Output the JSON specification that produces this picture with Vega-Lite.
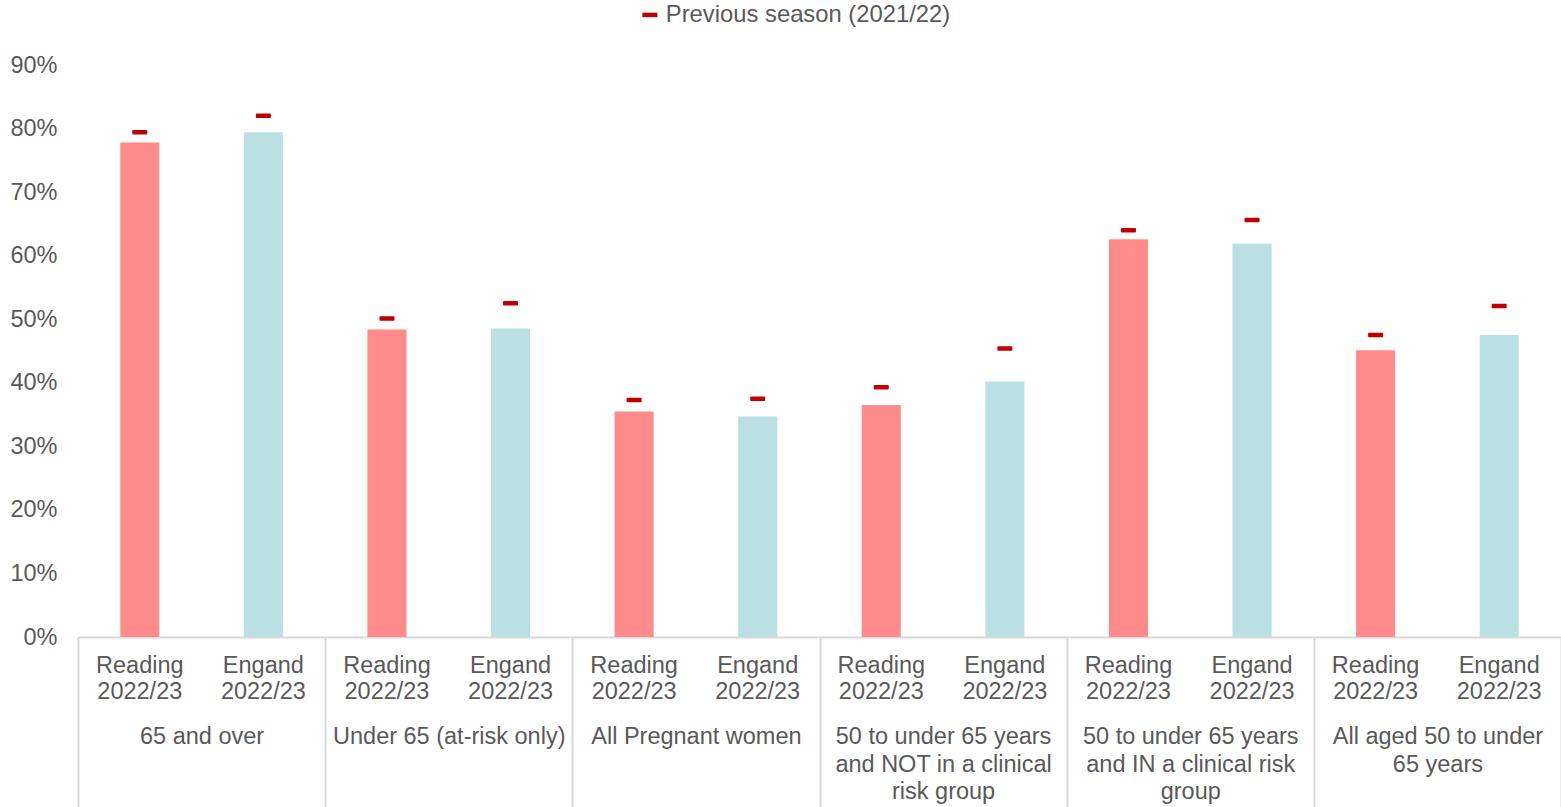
{
  "$schema": "https://vega.github.io/schema/vega-lite/v6.json",
  "width": 1483,
  "height": 572,
  "autosize": {"type": "none"},
  "padding": {"left": 78, "top": 65, "right": 0, "bottom": 170},
  "background": "white",
  "config": {
    "font": "Liberation Sans",
    "view": {"stroke": null},
    "axis": {"labelFont": "Liberation Sans", "labelFontSize": 23.5, "labelColor": "#595959", "grid": false, "title": null}
  },
  "data": {
    "values": [
      {"key": "1|Reading", "group": "65 and over", "series": "Reading", "value": 77.8, "prev": 79.4, "prevLabel": "Previous season (2021/22)"},
      {"key": "1|Engand", "group": "65 and over", "series": "Engand", "value": 79.4, "prev": 82.0, "prevLabel": "Previous season (2021/22)"},
      {"key": "2|Reading", "group": "Under 65 (at-risk only)", "series": "Reading", "value": 48.4, "prev": 50.1, "prevLabel": "Previous season (2021/22)"},
      {"key": "2|Engand", "group": "Under 65 (at-risk only)", "series": "Engand", "value": 48.55, "prev": 52.5, "prevLabel": "Previous season (2021/22)"},
      {"key": "3|Reading", "group": "All Pregnant women", "series": "Reading", "value": 35.5, "prev": 37.3, "prevLabel": "Previous season (2021/22)"},
      {"key": "3|Engand", "group": "All Pregnant women", "series": "Engand", "value": 34.7, "prev": 37.5, "prevLabel": "Previous season (2021/22)"},
      {"key": "4|Reading", "group": "50 to under 65 years|and NOT in a clinical|risk group", "series": "Reading", "value": 36.5, "prev": 39.3, "prevLabel": "Previous season (2021/22)"},
      {"key": "4|Engand", "group": "50 to under 65 years|and NOT in a clinical|risk group", "series": "Engand", "value": 40.2, "prev": 45.4, "prevLabel": "Previous season (2021/22)"},
      {"key": "5|Reading", "group": "50 to under 65 years|and IN a clinical risk|group", "series": "Reading", "value": 62.6, "prev": 64.0, "prevLabel": "Previous season (2021/22)"},
      {"key": "5|Engand", "group": "50 to under 65 years|and IN a clinical risk|group", "series": "Engand", "value": 61.9, "prev": 65.6, "prevLabel": "Previous season (2021/22)"},
      {"key": "6|Reading", "group": "All aged 50 to under|65 years", "series": "Reading", "value": 45.1, "prev": 47.5, "prevLabel": "Previous season (2021/22)"},
      {"key": "6|Engand", "group": "All aged 50 to under|65 years", "series": "Engand", "value": 47.5, "prev": 52.1, "prevLabel": "Previous season (2021/22)"}
    ]
  },
  "layer": [
    {
      "layer": [
        {
          "mark": {"type": "bar"},
          "encoding": {
            "x": {
              "field": "key", "type": "nominal", "sort": null,
              "scale": {"paddingInner": 0.684, "paddingOuter": 0.342},
              "axis": {
                "orient": "bottom", "title": null, "ticks": false, "domain": true,
                "domainColor": "#D9D9D9", "domainWidth": 2, "labelPadding": 16,
                "labelAngle": 0, "labelLimit": 300, "labelOverlap": false, "labelBound": false,
                "labelExpr": "[split(datum.label, '|')[1], '2022/23']", "labelLineHeight": 26.6
              }
            },
            "y": {
              "field": "value", "type": "quantitative",
              "scale": {"domain": [0, 90]},
              "axis": {
                "title": null, "domain": false, "ticks": false, "grid": false,
                "values": [0, 10, 20, 30, 40, 50, 60, 70, 80, 90],
                "labelExpr": "datum.value + '%'", "labelPadding": 21
              }
            },
            "color": {
              "field": "series", "type": "nominal",
              "scale": {"domain": ["Reading", "Engand"], "range": ["#FF8B8B", "#BAE0E3"]},
              "legend": null
            }
          }
        },
        {
          "mark": {"type": "tick", "orient": "horizontal", "thickness": 4.5, "size": 15, "cornerRadius": 1, "opacity": 1},
          "encoding": {
            "x": {"field": "key", "type": "nominal", "sort": null},
            "y": {"field": "prev", "type": "quantitative"},
            "color": {
              "field": "prevLabel", "type": "nominal",
              "scale": {"range": ["#C00000"]},
              "legend": {
                "title": null, "orient": "none", "legendX": 560, "legendY": -62,
                "symbolType": "M-1,-0.3H1V0.3H-1Z", "symbolSize": 225, "symbolOpacity": 1,
                "labelFont": "Liberation Sans", "labelFontSize": 23.8, "labelColor": "#595959",
                "labelOffset": 4, "labelLimit": 500
              }
            }
          }
        }
      ],
      "resolve": {"scale": {"color": "independent"}}
    },
    {
      "mark": {"type": "point", "opacity": 0},
      "encoding": {
        "x": {
          "field": "group", "type": "nominal", "sort": null,
          "scale": {"paddingInner": 0, "paddingOuter": 0},
          "axis": {
            "orient": "bottom", "title": null, "ticks": false, "domain": false,
            "labelPadding": 87.5, "labelAngle": 0, "labelLimit": 400, "labelOverlap": false, "labelBound": false,
            "labelExpr": "split(datum.label, '|')", "labelLineHeight": 27.5
          }
        }
      }
    },
    {
      "mark": {"type": "point", "opacity": 0},
      "encoding": {
        "x": {
          "field": "group", "type": "nominal", "sort": null,
          "scale": {"paddingInner": 0, "paddingOuter": 0},
          "axis": {
            "orient": "bottom", "title": null, "ticks": true, "tickBand": "extent",
            "tickSize": 170, "tickColor": "#D9D9D9", "tickWidth": 2,
            "labels": false, "domain": false
          }
        }
      }
    }
  ],
  "resolve": {"scale": {"x": "independent", "color": "independent"}, "axis": {"x": "independent"}}
}
